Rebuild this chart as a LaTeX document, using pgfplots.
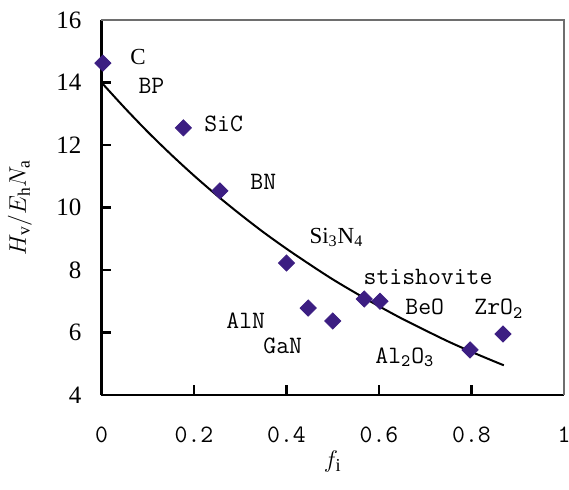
\documentclass[border=0pt]{standalone}
\usepackage{pgfplots}
\pgfplotsset{compat=1.18}
\usepackage{fontspec}
\setmainfont{Liberation Serif}
\newcommand\simfont{\ttfamily}
\definecolor{mk}{RGB}{60,30,130}
\definecolor{frame}{RGB}{110,110,110}
\begin{document}
\begin{tikzpicture}
\begin{axis}[
  name=ax,
  scale only axis, width=231.25pt, height=187.5pt,
  xmin=0, xmax=1, ymin=4, ymax=16,
  axis x line*=bottom, axis y line*=left,
  axis line style={black, line width=1.3pt},
  tick align=inside, major tick length=5pt,
  tick style={black, line width=1.3pt},
  xtick={0,0.2,0.4,0.6,0.8,1},
  xticklabels={0,0.2,0.4,0.6,0.8,1},
  ytick={4,6,8,10,12,14,16},
  yticklabels={4,6,8,10,12,14,16},
  xticklabel style={font=\simfont\fontsize{12.5}{14}\selectfont, anchor=base, yshift=-24pt},
  yticklabel style={font=\fontsize{12.5}{14}\selectfont, anchor=east, xshift=-6.5pt},
  xlabel={$f_{\mathrm{i}}$},
  xlabel style={at={(axis description cs:0.5,0)}, anchor=base, yshift=-36.5pt, font=\fontsize{13}{15}\selectfont},
  ylabel={$H_{\mathrm{v}}/E_{\mathrm{h}}N_{\mathrm{a}}$},
  ylabel style={at={([xshift=-40.75pt]axis description cs:0,0.5)}, anchor=center, font=\fontsize{12.5}{14}\selectfont},
  clip=false,
]
\addplot[black, line width=1pt, smooth] coordinates {
(0,14.00)(0.05,13.19)(0.10,12.42)(0.15,11.70)(0.20,11.02)(0.25,10.38)
(0.30,9.78)(0.35,9.21)(0.40,8.68)(0.45,8.18)(0.50,7.70)(0.55,7.26)
(0.60,6.84)(0.65,6.44)(0.70,6.07)(0.75,5.71)(0.80,5.38)(0.85,5.07)(0.87,4.95)};
\addplot[only marks, mark=square*, mark size=2.85pt, mark options={rotate=45, fill=mk, draw=mk}] coordinates {
(0.003,14.62)(0.177,12.55)(0.256,10.53)(0.400,8.22)(0.447,6.78)(0.500,6.37)
(0.568,7.07)(0.602,7.00)(0.797,5.44)(0.868,5.95)};
\draw[frame, line width=1pt] (rel axis cs:0,1) -- (rel axis cs:1,1) -- (rel axis cs:1,0);
\begin{scope}[every node/.style={anchor=base, inner sep=0pt}]
\node[font=\fontsize{11.5}{13}\selectfont] at (axis cs:0.079,14.56) {C};
\node[font=\fontsize{11.5}{13}\selectfont] at (axis cs:0.508,8.86) {Si\textsubscript{3}N\textsubscript{4}};
\node[font=\simfont\fontsize{12.5}{14}\selectfont] at (axis cs:0.108,13.66) {BP};
\node[font=\simfont\fontsize{12.5}{14}\selectfont] at (axis cs:0.264,12.42) {SiC};
\node[font=\simfont\fontsize{12.5}{14}\selectfont] at (axis cs:0.350,10.56) {BN};
\node[font=\simfont\fontsize{12.5}{14}\selectfont] at (axis cs:0.706,7.52) {stishovite};
\node[font=\simfont\fontsize{12.5}{14}\selectfont] at (axis cs:0.699,6.56) {BeO};
\node[font=\simfont\fontsize{12.5}{14}\selectfont] at (axis cs:0.859,6.56) {ZrO\textsubscript{2}};
\node[font=\simfont\fontsize{12.5}{14}\selectfont] at (axis cs:0.312,6.14) {AlN};
\node[font=\simfont\fontsize{12.5}{14}\selectfont] at (axis cs:0.392,5.34) {GaN};
\node[font=\simfont\fontsize{12.5}{14}\selectfont] at (axis cs:0.656,5.02) {Al\textsubscript{2}O\textsubscript{3}};
\end{scope}
\end{axis}
\pgfresetboundingbox
\path[use as bounding box] ([xshift=-50.75pt,yshift=-47.5pt]ax.south west) rectangle ([xshift=2.5pt,yshift=10pt]ax.north east);
\end{tikzpicture}
\end{document}
